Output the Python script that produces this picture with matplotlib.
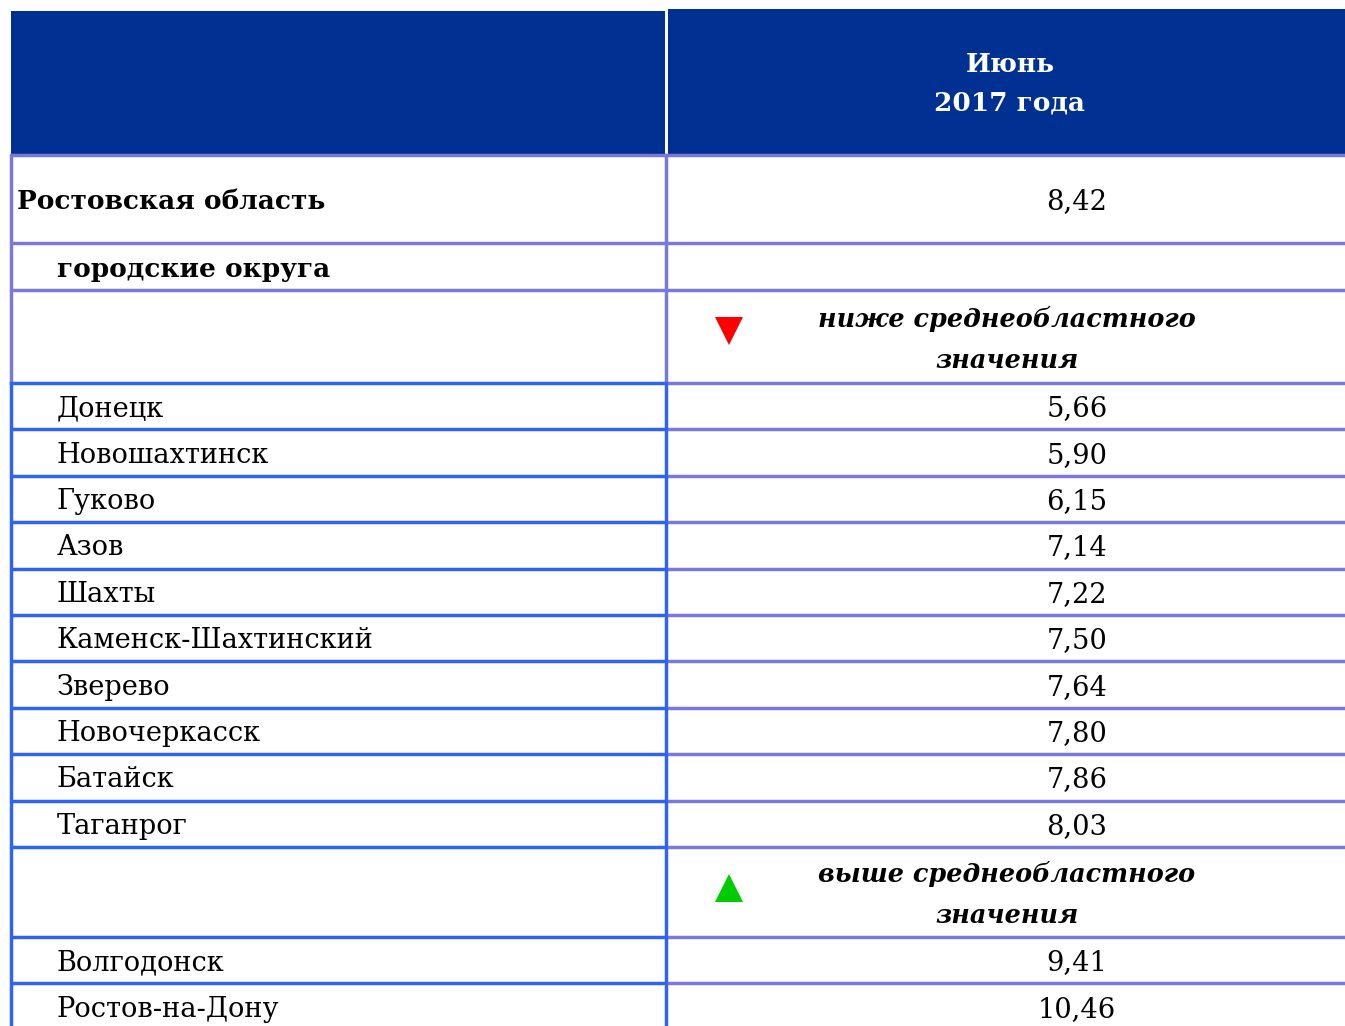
import matplotlib.pyplot as plt
from matplotlib.patches import Rectangle

# table content
header = "Июнь\n2017 года"
region_name = "Ростовская область"
region_value = "8,42"
group_title = "городские округа"
below_title = "ниже среднеобластного\nзначения"
below_cities = ["Донецк", "Новошахтинск", "Гуково", "Азов", "Шахты",
                "Каменск-Шахтинский", "Зверево", "Новочеркасск", "Батайск", "Таганрог"]
below_values = [5.66, 5.90, 6.15, 7.14, 7.22, 7.50, 7.64, 7.80, 7.86, 8.03]
above_title = "выше среднеобластного\nзначения"
above_cities = ["Волгодонск", "Ростов-на-Дону"]
above_values = [9.41, 10.46]

NAVY = "#003192"
LAV = "#7b78dc"
BLUE = "#2f64f2"
FONT = "DejaVu Serif"
FS = 19.6
FSB = 19


def fmt(v):
    return f"{v:.2f}".replace(".", ",")


W, H = 1345, 1026
fig = plt.figure(figsize=(W / 100, H / 100), dpi=100)
ax = fig.add_axes([0, 0, 1, 1])
ax.set_xlim(0, W)
ax.set_ylim(H, 0)
ax.axis("off")

x0, xm, x1 = 11, 666, W
val_x = 1077
dy = 2.5  # text sits a little below the row centre

# header band
ax.add_patch(Rectangle((x0, 11), xm - x0 - 1, 144, color=NAVY, lw=0))
ax.add_patch(Rectangle((xm + 2, 9), x1 - xm - 2, 146, color=NAVY, lw=0))
ax.text(1010, 84, header, color="white", fontsize=FSB, fontweight="bold",
        family=FONT, ha="center", va="center", linespacing=1.7)

# rows: (label, value, height, kind)
rows = [(region_name, region_value, 88, "region"),
        (group_title, "", 47, "group"),
        (below_title, "", 93, "below")]
rows += [(c, fmt(v), 46.4, "city") for c, v in zip(below_cities, below_values)]
rows += [(above_title, "", 90, "above")]
rows += [(c, fmt(v), 46.5, "city") for c, v in zip(above_cities, above_values)]

y = 155
bounds = [y]
for label, val, h, kind in rows:
    yc = y + h / 2 + dy
    if kind == "region":
        ax.text(17, yc, label, fontsize=FSB, fontweight="bold", family=FONT, va="center")
        ax.text(val_x, yc, val, fontsize=FS, family=FONT, va="center", ha="center")
    elif kind == "group":
        ax.text(57, yc, label, fontsize=FSB, fontweight="bold", family=FONT, va="center")
    elif kind in ("below", "above"):
        ax.text(1007, yc, label, fontsize=18.4, fontweight="bold", style="italic",
                family=FONT, va="center", ha="center", linespacing=1.8)
        mk = "v" if kind == "below" else "^"
        col = "#ff0000" if kind == "below" else "#00cc00"
        ax.plot(729, y + 41, marker=mk, color=col,
                markersize=20, markeredgewidth=0)
    else:
        ax.text(57, yc, label, fontsize=FS, family=FONT, va="center")
        ax.text(val_x, yc, val, fontsize=FS, family=FONT, va="center", ha="center")
    y += h
    bounds.append(y)

# grid lines
for i, b in enumerate(bounds):
    left_col = BLUE if i >= 3 else LAV
    ax.plot([x0, xm], [b, b], color=left_col, lw=2.5, solid_capstyle="butt")
    ax.plot([xm, x1], [b, b], color=LAV, lw=2.5, solid_capstyle="butt")

split = bounds[3]
for x in (x0, xm):
    ax.plot([x, x], [155, split], color=LAV, lw=2.5)
    ax.plot([x, x], [split, H], color=BLUE, lw=2.5)

fig.savefig("out.png", dpi=100)
